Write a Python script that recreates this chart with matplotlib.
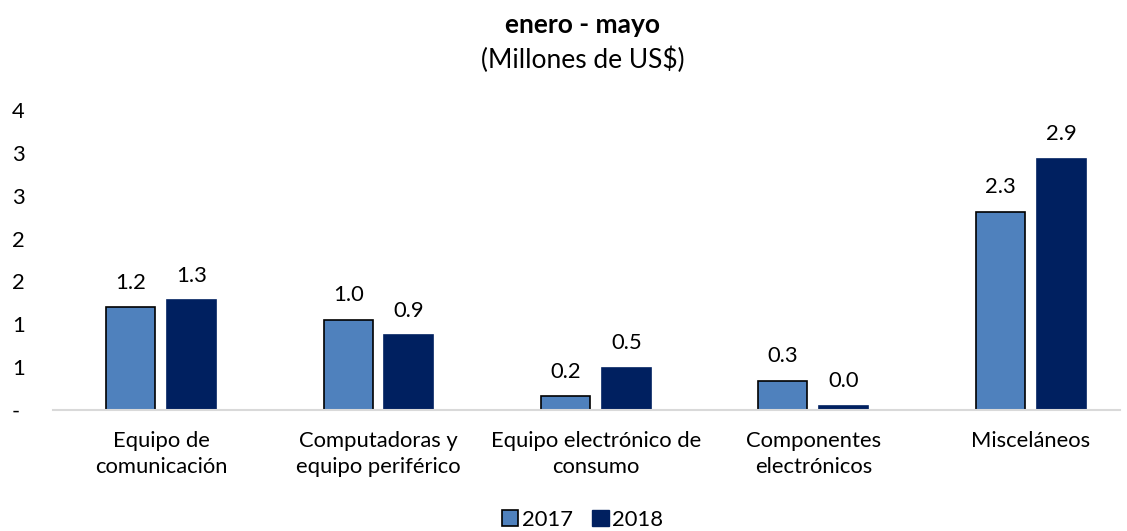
import numpy as np
import matplotlib.pyplot as plt
from matplotlib.patches import Patch

plt.rcParams['font.family'] = ['Lato', 'DejaVu Sans']

categories = ['Equipo de\ncomunicación', 'Computadoras y\nequipo periférico',
              'Equipo electrónico de\nconsumo', 'Componentes\nelectrónicos', 'Misceláneos']
v2017 = [1.2, 1.0, 0.2, 0.3, 2.3]
v2018 = [1.3, 0.9, 0.5, 0.0, 2.9]
# bar heights as drawn (labels are rounded)
h2017 = [1.20, 1.05, 0.16, 0.34, 2.31]
h2018 = [1.28, 0.87, 0.49, 0.05, 2.93]
yticks = [0, 0.5, 1.0, 1.5, 2.0, 2.5, 3.0, 3.5]
ylabels = ['-', '1', '1', '2', '2', '3', '3', '4']

c17 = '#4F81BD'
c18 = '#002060'
fs = 15.8

fig = plt.figure(figsize=(11.27, 5.31), dpi=100)
ax = fig.add_axes([53/1127, 1-410/531, (1120-53)/1127, 300/531])

x = np.arange(len(categories))
w = 0.225
off = 0.14
ax.bar(x - off, h2017, w, color=c17, edgecolor='black', linewidth=1.2)
ax.bar(x + off, h2018, w, color=c18, edgecolor=c18, linewidth=1.2)

for xi, h, v in zip(x, h2017, v2017):
    ax.text(xi - off, h + 0.17, f'{v:.1f}', ha='center', va='bottom', fontsize=fs)
for xi, h, v in zip(x, h2018, v2018):
    ax.text(xi + off, h + 0.17, f'{v:.1f}', ha='center', va='bottom', fontsize=fs)

ax.set_xlim(-0.497, 4.41)
ax.set_ylim(0, 3.5)
ax.set_yticks(yticks)
ax.set_yticklabels(ylabels, fontsize=fs)
ax.set_xticks(x)
ax.set_xticklabels(categories, fontsize=fs, linespacing=1.4)
ax.tick_params(length=0)
ax.tick_params(axis='y', pad=29.5)
ax.tick_params(axis='x', pad=15)
for lbl in ax.get_yticklabels():
    lbl.set_horizontalalignment('left')
for s in ['top', 'right', 'left']:
    ax.spines[s].set_visible(False)
ax.spines['bottom'].set_color('#D9D9D9')
ax.spines['bottom'].set_linewidth(1.5)

fig.text(0.517, 1-25/531, 'enero - mayo', ha='center', va='center', fontsize=19, fontweight='bold')
fig.text(0.517, 1-60/531, '(Millones de US$)', ha='center', va='center', fontsize=19)

handles = [Patch(facecolor=c17, edgecolor='black', linewidth=1.2, label='2017'),
           Patch(facecolor=c18, edgecolor=c18, label='2018')]
fig.legend(handles=handles, loc='center', bbox_to_anchor=(0.517, 1-520/531), ncol=2,
           frameon=False, fontsize=fs, handlelength=0.75, handleheight=0.75,
           handletextpad=0.15, columnspacing=0.9, borderpad=0)

fig.savefig('out.png', dpi=100)
